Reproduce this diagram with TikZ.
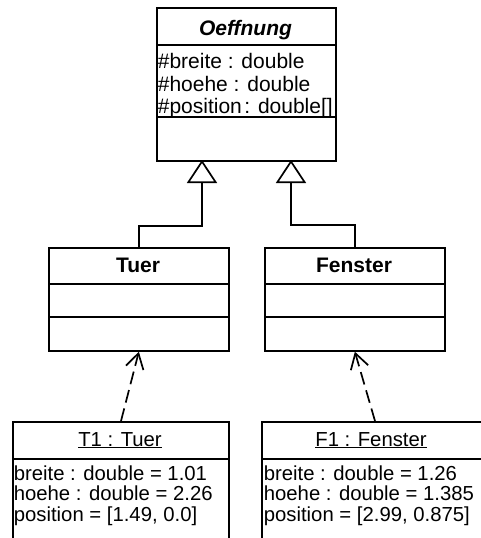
\documentclass[tikz,border=0pt]{standalone}
\usepackage{fontspec}
\setmainfont{Liberation Sans}
\usetikzlibrary{arrows.meta,calc}
\begin{document}
\begin{tikzpicture}[x=1pt,y=-1pt, line width=1.7pt,
  box/.style={draw, anchor=north west, inner sep=0pt},
  txt/.style={anchor=base west, inner sep=0pt, font=\fontsize{21}{23}\selectfont},
  itxt/.style={anchor=base west, inner sep=0pt, font=\fontsize{20.3}{23}\selectfont},
  ttl/.style={anchor=base, inner sep=0pt, font=\fontsize{21}{23}\selectfont\bfseries},
  gen/.style={-{Triangle[open,length=23pt,width=30pt,fill=white]}},
  dep/.style={dash pattern=on 13pt off 6pt, -{Straight Barb[length=15pt,width=18pt]}}]
\useasboundingbox (0,0) rectangle (481,538);
\clip (0,0) rectangle (481,538);
% Oeffnung
\node[box, minimum width=179pt, minimum height=153pt] (oe) at (156,7) {};
\draw (156,45) -- (335,45);
\draw (156,117) -- (335,117);
\node[ttl, font=\fontsize{21}{23}\selectfont\bfseries\itshape] (oet) at (245.5,35) {Oeffnung};
\node[txt] (oa1) at (157,68) {\#breite : double};
\node[txt] (oa2) at (157,91) {\#hoehe : double};
\node[txt] (oa3) at (157,113) {\#position\hspace{0.12em}: double[]};
% Tuer
\node[box, minimum width=180pt, minimum height=103pt] (tu) at (48,247) {};
\draw (48,284) -- (228,284);
\draw (48,317) -- (228,317);
\node[ttl] (tut) at (138,272) {Tuer};
% Fenster
\node[box, minimum width=180pt, minimum height=103pt] (fe) at (264,247) {};
\draw (264,284) -- (444,284);
\draw (264,317) -- (444,317);
\node[ttl] (fet) at (354,272) {Fenster};
% T1
\node[box, minimum width=216pt, minimum height=140pt] (t1) at (12,421) {};
\draw (12,459) -- (228,459);
\node[anchor=base, inner sep=0pt, font=\fontsize{20.3}{23}\selectfont] (t1t) at (120,446) {\underline{T1 : Tuer}};
\node[itxt] (t1a) at (13,480) {breite : double = 1.01};
\node[itxt] (t1b) at (13,500.5) {hoehe : double = 2.26};
\node[itxt] (t1c) at (13,521) {position = [1.49, 0.0]};
% F1
\node[box, minimum width=240pt, minimum height=140pt] (f1) at (261,421) {};
\draw (261,459) -- (501,459);
\node[anchor=base, inner sep=0pt, font=\fontsize{20.3}{23}\selectfont] (f1t) at (371,446) {\underline{F1 : Fenster}};
\node[itxt] (f1a) at (263,480) {breite : double = 1.26};
\node[itxt] (f1b) at (263,500.5) {hoehe : double = 1.385};
\node[itxt] (f1c) at (263,521) {position = [2.99, 0.875]};
% generalization
\coordinate (g1) at (202,160);
\coordinate (g2) at (291,160);
\draw[gen] (tu.north) -- ++(0,-21) -| (g1);
\draw[gen] (fe.north) -- ++(0,-22) -| (g2);
% instance-of dependencies
\coordinate (t1top) at (121,421);
\coordinate (f1top) at (375,421);
\draw[dep] (t1top) -- (tu.south);
\draw[dep] (f1top) -- (fe.south);
\end{tikzpicture}
\end{document}
